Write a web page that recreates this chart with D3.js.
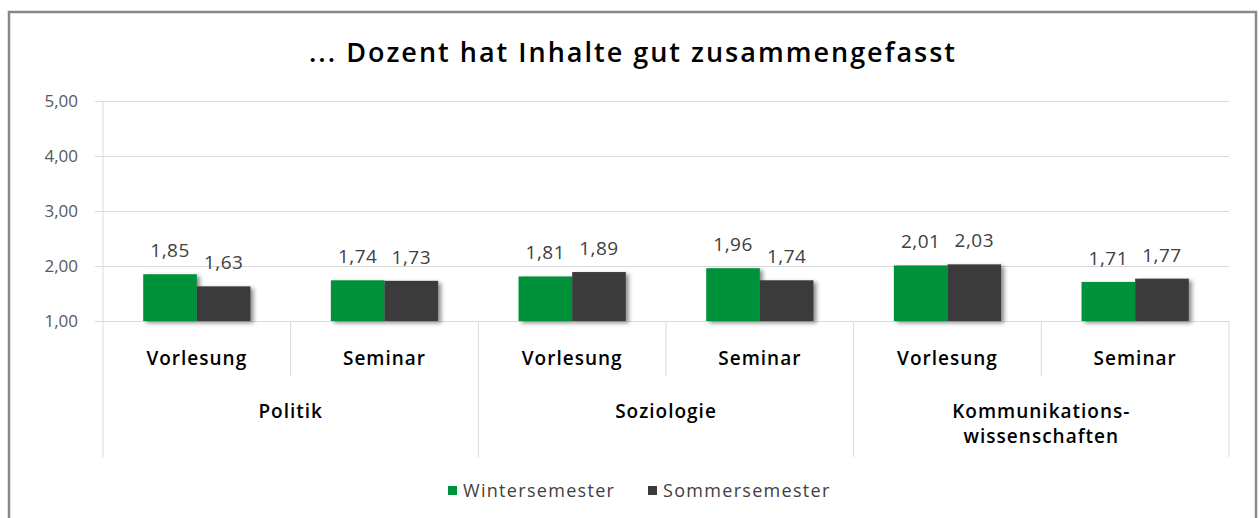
<!DOCTYPE html>
<html>
<head>
<meta charset="utf-8">
<script src="https://cdn.jsdelivr.net/npm/d3@7/dist/d3.min.js"></script>
<style>
  html, body { margin: 0; padding: 0; background: #fff; }
  svg { display: block; }
  text { font-family: "Open Sans", "Noto Sans", sans-serif; }
</style>
</head>
<body>
<svg id="chart" width="1259" height="518"></svg>
<script>
// ---- data ----
const title = "... Dozent hat Inhalte gut zusammengefasst";
const faculties = ["Politik", "Soziologie", "Kommunikations-\nwissenschaften"];
const courseTypes = ["Vorlesung", "Seminar"];
const seriesNames = ["Wintersemester", "Sommersemester"];
const winterValues = [1.85, 1.74, 1.81, 1.96, 2.01, 1.71];
const summerValues = [1.63, 1.73, 1.89, 1.74, 2.03, 1.77];
const yTicks = [1, 2, 3, 4, 5];

// ---- styles ----
const colors = ["#00913a", "#3a3a3a"];
const gridColor = "#d9d9d9";
const fmt = v => d3.format(".2f")(v).replace(".", ",");

const svg = d3.select("#chart");
const plot = { left: 103, right: 1229, top: 101, bottom: 321 };

// defs: drop shadow
const defs = svg.append("defs");
const f = defs.append("filter").attr("id", "shadow").attr("x", "-20%").attr("y", "-20%").attr("width", "150%").attr("height", "150%");
f.append("feDropShadow").attr("dx", 3).attr("dy", 2).attr("stdDeviation", 2).attr("flood-color", "#000").attr("flood-opacity", 0.45);

// outer border
svg.append("rect").attr("x", 9).attr("y", 12).attr("width", 1247).attr("height", 520)
  .attr("fill", "#fff").attr("stroke", "#888").attr("stroke-width", 2.5);

// title
svg.append("text").attr("x", 633).attr("y", 62).attr("text-anchor", "middle")
  .attr("font-size", 27).attr("font-weight", 600).attr("letter-spacing", 2).attr("fill", "#000").text(title);

// slots
const slots = [];
faculties.forEach((fac, i) => courseTypes.forEach((ct, j) => slots.push({ key: i + "-" + j, fac: i, type: ct })));

const y = d3.scaleLinear().domain([1, 5]).range([plot.bottom, plot.top]);
const x0 = d3.scaleBand().domain(slots.map(s => s.key)).range([plot.left, plot.right]).paddingInner(0).paddingOuter(0);
const x1 = d3.scaleBand().domain(seriesNames).range([0, x0.bandwidth()]).paddingInner(0).paddingOuter(0.75);
const xf = d3.scaleBand().domain(faculties).range([plot.left, plot.right]);

// y axis with gridlines
const yAxis = d3.axisLeft(y).tickValues(yTicks).tickFormat(fmt).tickSize(8).tickPadding(17);
const ga = svg.append("g").attr("transform", `translate(${plot.left},0)`).call(yAxis);
ga.select(".domain").attr("stroke", gridColor).attr("d", `M0,${plot.top}V${plot.bottom}`);
ga.selectAll(".tick line").attr("stroke", gridColor);
ga.selectAll(".tick text").attr("font-size", 17).attr("fill", "#595959").attr("font-family", "Open Sans, sans-serif");
ga.selectAll(".tick").append("line").attr("x1", 0).attr("x2", plot.right - plot.left).attr("stroke", gridColor);

// category separators
const sepInner = d3.range(0, slots.length + 1).filter(i => i % 2 === 1).map(i => plot.left + i * x0.step());
const sepOuter = d3.range(0, faculties.length + 1).map(i => xf(faculties[i]) ?? plot.right);
svg.append("g").selectAll("line").data(sepInner).join("line")
  .attr("x1", d => d).attr("x2", d => d).attr("y1", plot.bottom).attr("y2", 376)
  .attr("stroke", gridColor);
svg.append("g").selectAll("line").data(sepOuter).join("line")
  .attr("x1", d => d).attr("x2", d => d).attr("y1", plot.bottom).attr("y2", 457)
  .attr("stroke", gridColor);

// bars
const barData = [];
slots.forEach((s, i) => {
  barData.push({ slot: s.key, series: seriesNames[0], v: winterValues[i], c: colors[0] });
  barData.push({ slot: s.key, series: seriesNames[1], v: summerValues[i], c: colors[1] });
});
svg.append("g").selectAll("rect").data(barData).join("rect")
  .attr("x", d => x0(d.slot) + x1(d.series))
  .attr("y", d => y(d.v))
  .attr("width", x1.bandwidth())
  .attr("height", d => y(1) - y(d.v))
  .attr("fill", d => d.c)
  .attr("filter", "url(#shadow)");

// value labels
svg.append("g").selectAll("text").data(barData).join("text")
  .attr("x", d => x0(d.slot) + x1(d.series) + x1.bandwidth() / 2)
  .attr("y", d => y(d.v) - 17)
  .attr("text-anchor", "middle").attr("font-size", 19).attr("letter-spacing", 0.5).attr("fill", "#404040")
  .text(d => fmt(d.v));

// course type labels
svg.append("g").selectAll("text").data(slots).join("text")
  .attr("x", d => x0(d.key) + x0.bandwidth() / 2).attr("y", 365)
  .attr("text-anchor", "middle").attr("font-size", 19).attr("font-weight", 600).attr("letter-spacing", 1).attr("fill", "#000")
  .text(d => d.type);

// faculty labels
const fl = svg.append("g").selectAll("text").data(faculties).join("text")
  .attr("x", d => xf(d) + xf.bandwidth() / 2).attr("y", 418)
  .attr("text-anchor", "middle").attr("font-size", 19).attr("font-weight", 600).attr("letter-spacing", 1).attr("fill", "#000");
fl.each(function(d) {
  const parts = d.split("\n");
  const t = d3.select(this);
  parts.forEach((p, k) => t.append("tspan").attr("x", xf(d) + xf.bandwidth() / 2).attr("dy", k === 0 ? 0 : 25).text(p));
});

// legend
const legendPos = [448, 648];
const lg = svg.append("g");
seriesNames.forEach((n, i) => {
  lg.append("rect").attr("x", legendPos[i]).attr("y", 486).attr("width", 9).attr("height", 9).attr("fill", colors[i]);
  lg.append("text").attr("x", legendPos[i] + 15).attr("y", 497).attr("font-size", 18)
    .attr("letter-spacing", 1.3).attr("fill", "#404040").text(n);
});
</script>
</body>
</html>
